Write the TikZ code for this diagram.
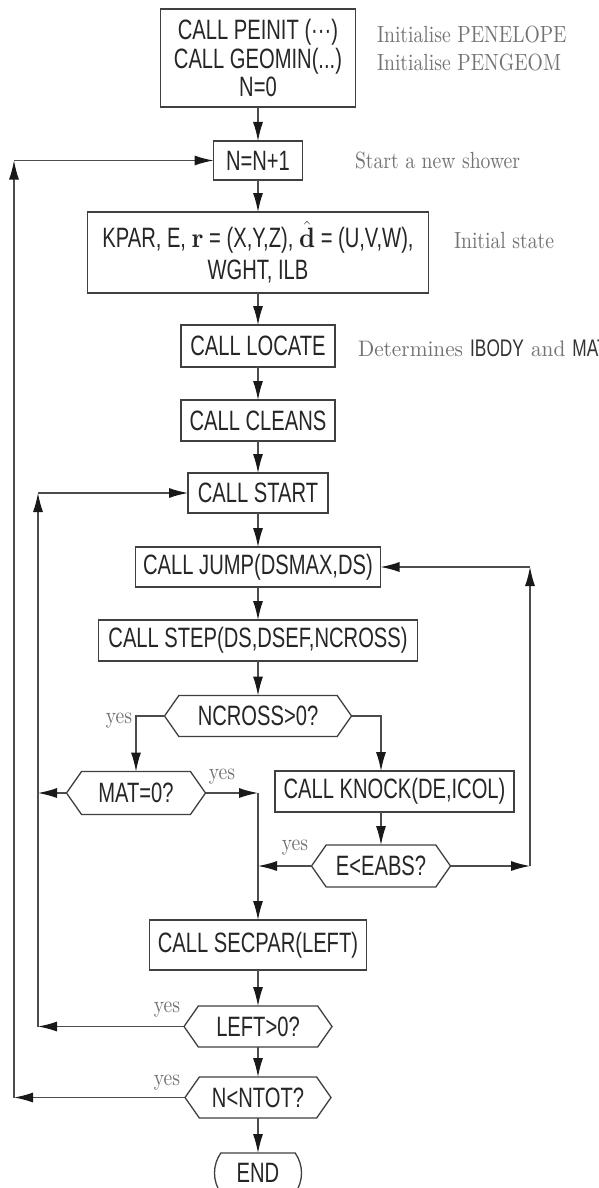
\documentclass[tikz,border=0pt]{standalone}
\usepackage{fontspec}
\usetikzlibrary{shapes.symbols,shapes.misc,arrows.meta}

% narrow sans for the boxes, condensed serif for the side notes
\newfontfamily\hv{Liberation Sans}[FakeStretch=0.72]
\newfontfamily\lm{lmroman10-regular}[Extension=.otf,FakeStretch=0.84]
\newfontfamily\lmw{lmroman10-regular}[Extension=.otf,FakeStretch=0.95]
\newfontfamily\lmb{lmroman10-bold}[Extension=.otf,FakeStretch=0.9]

\newcommand\boxfont{\fontsize{28}{28.5}\selectfont\hv}
\newcommand\notefont{\fontsize{23.4}{28}\selectfont\lm}
\newcommand\widenote{\fontsize{22.4}{26}\selectfont\lmw}
\newcommand\notesans{\fontsize{24}{26}\selectfont\hv\color{black!80}}

\tikzset{
  every node/.style={inner sep=0pt, outer sep=0pt},
  stepbox/.style={rectangle, draw=black!75, line width=1.3pt, font=\boxfont,
    text=black!85, align=center},
  hexa/.style={signal, signal to=east and west, signal pointer angle=110,
    draw=black!75, line width=1.3pt, font=\boxfont, text=black!85},
  endbox/.style={rounded rectangle, rounded rectangle arc length=70,
    draw=black!75, line width=1.3pt, font=\boxfont, text=black!85},
  note/.style={font=\notefont, text=black!55, anchor=west},
  yeslbl/.style={font=\notefont, text=black!55},
  flow/.style={draw=black!70, line width=1.2pt,
    -{Latex[length=19pt,width=10pt,color=black!90]}},
}

\begin{document}
\begin{tikzpicture}[x=1pt, y=-1pt]
\useasboundingbox (0,0) rectangle (599,1188);
\clip (0,0) rectangle (599,1188);
\fill[white] (0,0) rectangle (599,1188);

% main column
\node[stepbox, minimum width=195pt, minimum height=98pt] (init) at (258,58)
  {CALL PEINIT (···)\\CALL GEOMIN(...)\\N=0};
\node[stepbox, minimum width=89pt, minimum height=39pt] (nn) at (258,160.5) {N=N+1};
\node[stepbox, minimum width=341pt, minimum height=81pt] (kpar) at (258,252.5)
  {KPAR, E, {\lmb r} = (X,Y,Z), $\hat{\mbox{\lmb d}}$ = (U,V,W),\\[3.5pt]WGHT, ILB};
\node[stepbox, minimum width=154pt, minimum height=42pt] (locate) at (258,346) {CALL LOCATE};
\node[stepbox, minimum width=154pt, minimum height=41pt] (cleans) at (258,420.5) {CALL CLEANS};
\node[stepbox, minimum width=140pt, minimum height=40pt] (start) at (258,493) {CALL START};
\node[stepbox, minimum width=245pt, minimum height=40pt] (jump) at (258,567) {CALL JUMP(DSMAX,DS)};
\node[stepbox, minimum width=319pt, minimum height=41pt] (stepc) at (258,640.5) {CALL STEP(DS,DSEF,NCROSS)};
\node[hexa, minimum width=187pt, minimum height=41pt] (ncross) at (258,716) {NCROSS>0?};
\node[hexa, minimum width=139pt, minimum height=43pt] (mat) at (136,793) {MAT=0?};
\node[stepbox, minimum width=239pt, minimum height=41pt] (knock) at (394.5,791.5) {CALL KNOCK(DE,ICOL)};
\node[hexa, minimum width=139pt, minimum height=42pt] (eabs) at (381,866) {E<EABS?};
\node[stepbox, minimum width=217pt, minimum height=50pt] (secpar) at (258,945) {CALL SECPAR(LEFT)};
\node[hexa, minimum width=148pt, minimum height=41pt] (left) at (258,1026.5) {LEFT>0?};
\node[hexa, minimum width=146pt, minimum height=41pt] (ntot) at (258,1097.5) {N<NTOT?};
\node[endbox, minimum width=87pt, minimum height=40pt] (fin) at (258,1173) {END};

% side notes
\node[note] (n1) at (377,35) {Initialise PENELOPE};
\node[note] (n2) at (377,63) {Initialise PENGEOM};
\node[note] (n3) at (355,160.5) {Start a new shower};
\node[note] (n4) at (454,241) {Initial state};
\node[note, font=\widenote] (n5) at (358,348) {Determines {\notesans IBODY} and {\notesans MAT}};

% branch labels
\node[yeslbl] (y1) at (119,721) {yes};
\node[yeslbl] (y2) at (222,777) {yes};
\node[yeslbl] (y3) at (295,848) {yes};
\node[yeslbl] (y4) at (167,1010) {yes};
\node[yeslbl] (y5) at (167,1083) {yes};

% return lines
\coordinate (ox) at (14,0);
\coordinate (ix) at (38,0);
\coordinate (rx) at (530,0);
\coordinate (mx) at (258,0);

% straight flow down the main column
\foreach \a/\b in {init/nn, nn/kpar, kpar/locate, locate/cleans, cleans/start,
  start/jump, jump/stepc, stepc/ncross, secpar/left, left/ntot, ntot/fin}
  \draw[flow] (\a.south) -- (\b.north);

% NCROSS branches
\draw[flow] (ncross.west) -| (mat.north);
\draw[flow] (ncross.east) -| (eabs.north |- knock.north);
\draw[flow] (eabs.north |- knock.south) -- (eabs.north);

% MAT=0? outcomes
\draw[flow] (mat.west) -- (mat.west -| ix);
\draw[flow] (mat.east) -- (mat.east -| mx);
\draw[flow] (mat.east -| mx) -- (secpar.north);

% E<EABS? outcomes
\draw[flow] (eabs.west) -- (eabs.west -| mx);
\draw[flow] (eabs.east) -- (eabs.east -| rx);
\draw[flow] (eabs.east -| rx) -- (jump.east -| rx);
\draw[flow] (jump.east -| rx) -- (jump.east);

% LEFT>0? loop back to START
\draw[flow] (left.west) -- (left.west -| ix);
\draw[flow] (left.west -| ix) -- (start.west -| ix);
\draw[flow] (start.west -| ix) -- (start.west);

% N<NTOT? loop back to a new shower
\draw[flow] (ntot.west) -- (ntot.west -| ox);
\draw[flow] (ntot.west -| ox) -- (nn.west -| ox);
\draw[flow] (nn.west -| ox) -- (nn.west);
\end{tikzpicture}
\end{document}
